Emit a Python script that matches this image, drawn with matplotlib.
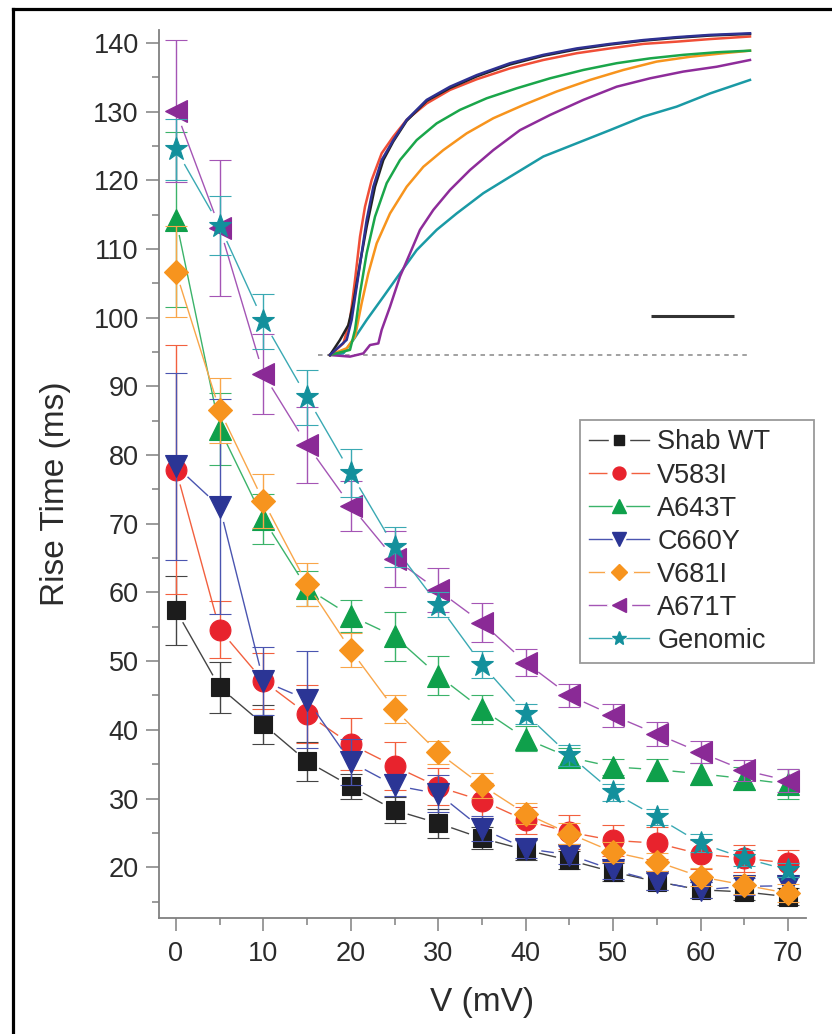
import matplotlib
matplotlib.use("Agg")
import matplotlib.pyplot as plt
import numpy as np
from matplotlib.collections import LineCollection
from matplotlib.legend_handler import HandlerTuple
from matplotlib.lines import Line2D
from matplotlib.ticker import MultipleLocator

plt.rcParams["font.family"] = ["Liberation Sans", "DejaVu Sans"]

# rise time vs voltage, mean +- error
voltage = [0, 5, 10, 15, 20, 25, 30, 35, 40, 45, 50, 55, 60, 65, 70]

shab_wt = [57.4, 46.2, 40.8, 35.4, 31.8, 28.3, 26.4, 24.2, 22.5, 21.0, 19.3, 17.9, 16.7, 16.4, 15.7]
shab_wt_err = [5.0, 3.7, 2.8, 2.8, 1.8, 1.9, 2.1, 1.6, 1.5, 1.3, 1.3, 1.2, 1.2, 1.2, 1.2]

v583i = [77.9, 54.6, 47.1, 42.3, 37.9, 34.7, 31.7, 29.7, 26.8, 25.1, 23.9, 23.5, 21.9, 21.3, 20.6]
v583i_err = [18.1, 4.2, 4.1, 4.2, 3.8, 3.5, 2.7, 2.6, 2.0, 2.5, 2.2, 2.3, 2.1, 2.0, 1.9]

a643t = [114.3, 83.8, 70.7, 60.6, 56.6, 53.6, 47.9, 43.0, 38.7, 36.0, 34.6, 34.2, 33.6, 32.9, 32.1]
a643t_err = [12.8, 5.3, 3.7, 2.5, 2.3, 3.6, 2.8, 2.1, 1.8, 1.3, 1.2, 1.6, 1.6, 1.7, 2.2]

c660y = [78.4, 72.5, 47.1, 44.4, 35.3, 31.9, 30.7, 25.6, 22.7, 21.8, 19.6, 17.9, 16.7, 17.2, 17.3]
c660y_err = [13.6, 15.7, 4.9, 7.1, 3.4, 1.6, 2.7, 1.8, 1.4, 1.3, 1.3, 1.2, 1.2, 1.2, 1.2]

v681i = [106.7, 86.5, 73.3, 61.2, 51.6, 43.0, 36.7, 31.9, 27.8, 24.9, 22.2, 20.8, 18.6, 17.4, 16.2]
v681i_err = [6.6, 4.7, 3.9, 3.1, 2.5, 2.0, 1.7, 1.8, 1.5, 1.5, 1.4, 1.3, 1.3, 1.3, 1.3]

a671t = [130.1, 113.1, 91.8, 81.5, 72.6, 64.9, 60.3, 55.6, 49.8, 45.0, 42.1, 39.4, 36.7, 34.1, 32.6]
a671t_err = [10.4, 9.9, 5.8, 5.5, 3.6, 4.1, 3.2, 2.8, 2.0, 1.7, 1.7, 1.7, 1.6, 1.5, 1.7]

genomic = [124.5, 113.4, 99.5, 88.4, 77.4, 66.6, 58.2, 49.5, 42.3, 36.3, 30.9, 27.3, 23.5, 21.3, 19.6]
genomic_err = [4.5, 4.3, 4.0, 4.0, 3.5, 2.9, 1.8, 2.0, 1.5, 1.5, 1.2, 1.2, 1.3, 1.2, 1.0]

series = [
    ("Shab WT", shab_wt, shab_wt_err, "s", 12.5, "#1c1c1c"),
    ("V583I", v583i, v583i_err, "o", 15, "#e8232d"),
    ("A643T", a643t, a643t_err, "^", 15.5, "#0fa04b"),
    ("C660Y", c660y, c660y_err, "v", 15.5, "#2b3595"),
    ("V681I", v681i, v681i_err, "D", 12.5, "#f7941e"),
    ("A671T", a671t, a671t_err, "<", 15.5, "#8a2a96"),
    ("Genomic", genomic, genomic_err, "*", 17, "#13909c"),
]
line_colors = ["#444444", "#f2603f", "#3bb36a", "#4a55b0", "#f9a64a", "#a455b5", "#3aa9b3"]

# inset current traces (time in ms, normalized current)
t_wt = [0, 2.4, 4.4, 5.6, 7.2, 8.8, 10.8, 12.8, 15.2, 18.4, 23.2, 28.8, 35.2, 43.2, 51.2, 59.2, 67.2, 75.2, 83.2, 91.2, 100.8]
i_wt = [0, 0.047, 0.093, 0.161, 0.285, 0.399, 0.523, 0.606, 0.664, 0.728, 0.79, 0.83, 0.866, 0.903, 0.93, 0.95, 0.965, 0.977, 0.986, 0.993, 0.998]
t_v583i = [0, 3.2, 4.8, 6.0, 7.2, 8.4, 10.0, 12.4, 15.2, 18.4, 23.2, 28.8, 35.2, 43.2, 51.2, 59.2, 67.2, 75.2, 83.2, 91.2, 100.8]
i_v583i = [0, 0.036, 0.109, 0.233, 0.368, 0.461, 0.544, 0.627, 0.679, 0.731, 0.782, 0.824, 0.857, 0.891, 0.917, 0.938, 0.953, 0.967, 0.974, 0.982, 0.99]
t_a643t = [0, 4.8, 6.0, 7.2, 8.8, 10.8, 13.6, 16.8, 20.8, 25.6, 31.2, 37.6, 44.8, 52.8, 60.8, 68.8, 76.8, 84.8, 92.8, 100.8]
i_a643t = [0, 0.016, 0.078, 0.192, 0.316, 0.430, 0.534, 0.606, 0.668, 0.72, 0.762, 0.798, 0.829, 0.860, 0.886, 0.907, 0.922, 0.933, 0.941, 0.946]
t_c660y = [0, 4.0, 5.2, 6.4, 7.6, 8.8, 10.4, 12.4, 15.2, 18.4, 23.2, 28.8, 35.2, 43.2, 51.2, 59.2, 67.2, 75.2, 83.2, 91.2, 100.8]
i_c660y = [0, 0.047, 0.109, 0.212, 0.316, 0.420, 0.523, 0.606, 0.668, 0.731, 0.793, 0.834, 0.870, 0.907, 0.933, 0.953, 0.967, 0.979, 0.988, 0.995, 1.0]
t_v681i = [0, 4.0, 6.0, 7.6, 9.2, 11.2, 14.4, 18.4, 22.4, 27.2, 32.8, 39.2, 46.4, 54.4, 62.4, 70.4, 78.4, 86.4, 94.4, 100.8]
i_v681i = [0, 0.021, 0.057, 0.161, 0.254, 0.347, 0.440, 0.523, 0.585, 0.637, 0.689, 0.736, 0.777, 0.819, 0.855, 0.886, 0.912, 0.927, 0.938, 0.946]
t_a671t = [0, 4.8, 8.0, 9.6, 11.6, 12.4, 14.4, 16.8, 19.2, 21.6, 24.8, 28.8, 33.6, 39.2, 45.6, 52.8, 60.8, 68.8, 76.8, 84.8, 92.8, 100.8]
i_a671t = [0, -0.005, 0.005, 0.031, 0.036, 0.078, 0.150, 0.244, 0.316, 0.389, 0.451, 0.513, 0.575, 0.637, 0.699, 0.746, 0.793, 0.834, 0.860, 0.881, 0.896, 0.917]
t_genomic = [0, 3.2, 5.6, 8.8, 12.8, 16.8, 20.8, 25.6, 30.4, 36.8, 43.2, 51.2, 59.2, 67.2, 75.2, 83.2, 91.2, 100.8]
i_genomic = [0, 0.005, 0.047, 0.109, 0.181, 0.254, 0.326, 0.389, 0.440, 0.503, 0.554, 0.617, 0.658, 0.699, 0.741, 0.772, 0.813, 0.855]

scale_bar_ms = 20
scale_bar_start = 77

W, H = 832, 1034
fig = plt.figure(figsize=(W / 100, H / 100), dpi=100)

# figure frame (left and top edge visible)
fig.add_artist(Line2D([13 / W, 13 / W], [0, 1 - 9 / H], color="black", lw=2.3))
fig.add_artist(Line2D([13 / W, 1], [1 - 9 / H, 1 - 9 / H], color="black", lw=2.3))

ax = fig.add_axes([159 / W, 1 - 918 / H, 647 / W, 888 / H])
ax.set_xlim(-1.94, 72.06)
ax.set_ylim(12.6, 141.9)


def gapped(x, y, gap_px):
    # connecting segments that stop short of the symbols (Origin style)
    pts = ax.transData.transform(np.column_stack([x, y]))
    inv = ax.transData.inverted()
    segs = []
    for p0, p1 in zip(pts[:-1], pts[1:]):
        d = p1 - p0
        L = np.hypot(d[0], d[1])
        if L <= 2 * gap_px:
            continue
        u = d / L
        segs.append(inv.transform([p0 + u * gap_px, p1 - u * gap_px]))
    return segs


handles = []
labels = []
for k, ((name, vals, errs, mk, ms, col), lc) in enumerate(zip(series, line_colors)):
    z = 3 + k * 0.1
    gap = ms * 100 / 72 / 2 + 5
    ax.add_collection(LineCollection(gapped(voltage, vals, gap), colors=lc,
                                     linewidths=1.0, zorder=z))
    ax.errorbar(voltage, vals, yerr=errs, ls="none", ecolor=lc, elinewidth=1.0,
                capsize=8, capthick=1.0, marker=mk, markersize=ms,
                markerfacecolor=col, markeredgecolor=col, markeredgewidth=0.8,
                zorder=z + 0.05)
    ms_leg = ms * 0.62
    h = (Line2D([], [], color=lc, lw=1.0),
         Line2D([], [], ls="none", marker=mk, markersize=ms_leg + 7,
                markerfacecolor="white", markeredgecolor="white"),
         Line2D([], [], ls="none", marker=mk, markersize=ms_leg,
                markerfacecolor=col, markeredgecolor=col))
    handles.append(h)
    labels.append(name)

ax.xaxis.set_major_locator(MultipleLocator(10))
ax.xaxis.set_minor_locator(MultipleLocator(5))
ax.yaxis.set_minor_locator(MultipleLocator(5))
ax.set_yticks(range(20, 141, 10))

for s in ("top", "right"):
    ax.spines[s].set_visible(False)
for s in ("left", "bottom"):
    ax.spines[s].set_color("#808080")
    ax.spines[s].set_linewidth(1.3)

ax.tick_params(which="both", direction="out", color="#808080", width=1.1,
               labelsize=19.5, labelcolor="#2b2b2b")
ax.tick_params(which="major", length=9.5)
ax.tick_params(which="minor", length=5)
ax.tick_params(axis="x", pad=7)
ax.tick_params(axis="y", pad=5)

ax.set_xlabel("V (mV)", fontsize=24, color="#2b2b2b")
ax.set_ylabel("Rise Time (ms)", fontsize=24, color="#2b2b2b")
ax.xaxis.label.set_va("center")
ax.yaxis.label.set_va("center")
ax.xaxis.set_label_coords(0.5, -0.0957)
ax.yaxis.set_label_coords(-0.1607, 0.4775)

leg = ax.legend(handles, labels, loc="upper left",
                handler_map={tuple: HandlerTuple(ndivide=1)},
                bbox_to_anchor=(580 / W, 1 - 665 / H, 234 / W, 245 / H),
                bbox_transform=fig.transFigure, mode="expand", borderaxespad=0,
                fontsize=19.5, markerscale=1, handlelength=2.2, handletextpad=0.3,
                labelspacing=0.26, borderpad=0.35, fancybox=False, framealpha=1)
leg.get_frame().set_edgecolor("#9a9a9a")
leg.get_frame().set_linewidth(1.3)
leg.set_zorder(10)
for txt in leg.get_texts():
    txt.set_color("#2b2b2b")

# inset with current traces
axi = fig.add_axes([310 / W, 1 - 370 / H, 460 / W, 350 / H])
axi.set_xlim(-4.8, 105.6)
axi.set_ylim(-0.0466, 1.0413)
axi.axis("off")
axi.patch.set_alpha(0)
axi.axhline(0, xmin=0.0174, xmax=0.95, color="#9a9a9a", lw=1.3, ls=(0, (2.5, 2.5)))
traces = [
    (t_genomic, i_genomic, "#1a9aa5"),
    (t_a671t, i_a671t, "#8e2c9a"),
    (t_v681i, i_v681i, "#f7941d"),
    (t_a643t, i_a643t, "#1aa64a"),
    (t_v583i, i_v583i, "#f04e37"),
    (t_wt, i_wt, "#222222"),
    (t_c660y, i_c660y, "#2e3192"),
]
for t, i, col in traces:
    axi.plot(t, i, color=col, lw=1.8)
axi.plot([scale_bar_start, scale_bar_start + scale_bar_ms], [0.121, 0.121],
         color="#333333", lw=2.2, solid_capstyle="butt")

fig.savefig("out.png", dpi=100)
